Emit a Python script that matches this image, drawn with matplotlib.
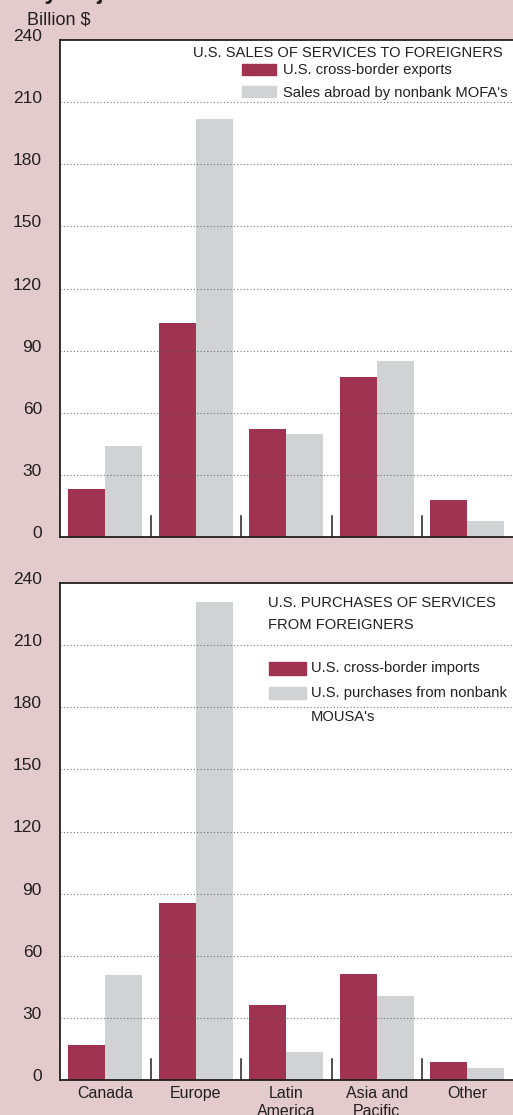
import numpy as np
import matplotlib
matplotlib.use("Agg")
import matplotlib.pyplot as plt
from matplotlib.patches import Rectangle
import matplotlib.transforms as mtransforms

plt.rcParams['font.family'] = ['Liberation Sans', 'DejaVu Sans']

# data (billion $)
regions = ['Canada', 'Europe', 'Latin\nAmerica', 'Asia and\nPacific', 'Other']
exports = [23.4, 103.1, 52.2, 77.2, 18.1]
mofa_sales = [44.1, 201.9, 49.8, 84.9, 7.6]
imports = [17.0, 85.7, 36.2, 51.1, 8.9]
mousa_purchases = [50.6, 231.0, 13.7, 40.6, 6.0]
yticks = [0, 30, 60, 90, 120, 150, 180, 210, 240]

RED = '#a03352'
GREY = '#d1d2d4'
BG = '#e2cacd'
INK = '#231f20'
LEG = 10.6

W, H = 513, 1115
fig = plt.figure(figsize=(W / 100, H / 100), dpi=100, facecolor=BG)


def px(x, y):
    return x / W, 1 - y / H


def make_axes(top_px, bot_px):
    ax = fig.add_axes([60 / W, 1 - bot_px / H, 458 / W, (bot_px - top_px) / H])
    ax.set_facecolor('white')
    ax.set_xlim(-0.5, 4.56)
    ax.set_ylim(0, 240)
    ax.set_yticks(yticks)
    ax.tick_params(axis='y', length=0, pad=13, labelsize=12.5, labelcolor=INK)
    off = mtransforms.ScaledTranslation(0, 5 / 100, fig.dpi_scale_trans)
    for lab in ax.get_yticklabels():
        lab.set_transform(lab.get_transform() + off)
    for g in yticks[1:-1]:
        ax.axhline(g, color='#555555', lw=0.8, ls=(0, (1, 2)), alpha=0.8, zorder=4)
    for s in ['top', 'left', 'bottom']:
        ax.spines[s].set_color(INK)
        ax.spines[s].set_linewidth(1.3)
    ax.spines['right'].set_visible(False)
    return ax


def draw_bars(ax, a, b):
    x = np.arange(len(regions))
    w = 0.41
    ax.bar(x - w / 2, a, w, color=RED, zorder=2)
    ax.bar(x + w / 2, b, w, color=GREY, zorder=2)
    mids = (x[:-1] + x[1:]) / 2
    for m in mids:
        ax.plot([m, m], [0, 10], color=INK, lw=1.1, zorder=3)
    ax.set_xticks(x)


ax1 = make_axes(40, 537)
draw_bars(ax1, exports, mofa_sales)
ax1.set_xticklabels([])
ax1.tick_params(axis='x', length=0)

ax2 = make_axes(583, 1080)
draw_bars(ax2, imports, mousa_purchases)
ax2.set_xticklabels(regions, fontsize=11.5, color=INK, linespacing=1.3)
ax2.tick_params(axis='x', length=0, pad=4)

# clipped title at top
fig.text(*px(30, -1), 'by Major Area', fontsize=17, fontweight='bold',
         color=INK, ha='left', va='baseline')
fig.text(*px(27, 20), 'Billion $', fontsize=13, color=INK, ha='left', va='center')

# top legend
fig.text(*px(503, 53), 'U.S. SALES OF SERVICES TO FOREIGNERS', fontsize=LEG,
         color=INK, ha='right', va='center')
fig.patches.append(Rectangle(px(242, 75), 34 / W, 11 / H, color=RED, transform=fig.transFigure, figure=fig))
fig.patches.append(Rectangle(px(242, 97), 34 / W, 11 / H, color=GREY, transform=fig.transFigure, figure=fig))
fig.text(*px(283, 70), 'U.S. cross-border exports', fontsize=LEG, color=INK, ha='left', va='center')
fig.text(*px(283, 93), "Sales abroad by nonbank MOFA's", fontsize=LEG, color=INK, ha='left', va='center')

# bottom legend
fig.text(*px(268, 603), 'U.S. PURCHASES OF SERVICES', fontsize=LEG, color=INK, ha='left', va='center')
fig.text(*px(268, 625), 'FROM FOREIGNERS', fontsize=LEG, color=INK, ha='left', va='center')
fig.patches.append(Rectangle(px(269, 675), 37 / W, 13 / H, color=RED, transform=fig.transFigure, figure=fig))
fig.patches.append(Rectangle(px(269, 699), 37 / W, 12 / H, color=GREY, transform=fig.transFigure, figure=fig))
fig.text(*px(311, 668), 'U.S. cross-border imports', fontsize=LEG, color=INK, ha='left', va='center')
fig.text(*px(311, 693), 'U.S. purchases from nonbank', fontsize=LEG, color=INK, ha='left', va='center')
fig.text(*px(311, 717), "MOUSA's", fontsize=LEG, color=INK, ha='left', va='center')

fig.savefig('out.png', dpi=100, facecolor=BG)
